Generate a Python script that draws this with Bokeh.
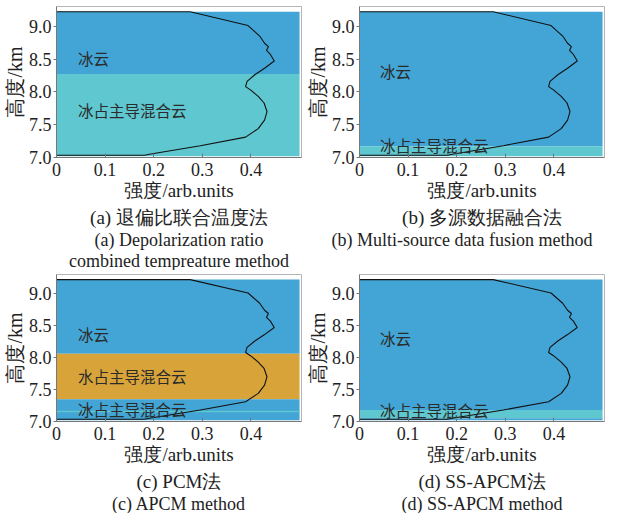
from bokeh.plotting import figure
from bokeh.layouts import row, column
from bokeh.models import Title, FixedTicker, ColumnDataSource, Range1d, NumeralTickFormatter
from bokeh.core.properties import value
from bokeh.embed import file_html
from bokeh.resources import INLINE

# ---------------- data ----------------
height_km = [9.22, 9.22, 9.01, 8.85, 8.74, 8.69, 8.63, 8.57, 8.47, 8.36, 8.26, 8.16,
             8.08, 8.03, 7.93, 7.83, 7.70, 7.57, 7.44, 7.31, 7.18, 7.05, 7.035, 7.035]
intensity = [0.0, 0.275, 0.394, 0.418, 0.428, 0.436, 0.432, 0.440, 0.448, 0.428, 0.408, 0.392,
             0.389, 0.399, 0.415, 0.427, 0.433, 0.428, 0.415, 0.389, 0.296, 0.191, 0.181, 0.0]

x_ticks = [0, 0.1, 0.2, 0.3, 0.4]
x_tick_labels = ["0", "0.1", "0.2", "0.3", "0.4"]
y_ticks = [7.0, 7.5, 8.0, 8.5, 9.0]
y_tick_labels = ["7.0", "7.5", "8.0", "8.5", "9.0"]
x_limits = [0.0, 0.5]
y_limits = [7.0, 9.3]

x_axis_title = "强度/arb.units"
y_axis_title = "高度/km"

# band classes per panel
a_band_class = ["ice", "ice_mixed"]
a_band_bottom = [8.27, 7.02]
a_band_top = [9.22, 8.27]

b_band_class = ["ice", "ice_mixed"]
b_band_bottom = [7.17, 7.02]
b_band_top = [9.22, 7.17]

c_band_class = ["ice", "water_mixed", "ice", "ice_mixed"]
c_band_bottom = [8.06, 7.35, 7.02, 7.145]
c_band_top = [9.22, 8.06, 7.35, 7.17]

d_band_class = ["ice", "ice_mixed", "ice"]
d_band_bottom = [7.18, 7.05, 7.02]
d_band_top = [9.22, 7.18, 7.05]

a_label_text = ["冰云", "冰占主导混合云"]
a_label_x = [0.044, 0.044]
a_label_y = [8.51, 7.72]

b_label_text = ["冰云", "冰占主导混合云"]
b_label_x = [0.042, 0.042]
b_label_y = [8.31, 7.19]

c_label_text = ["冰云", "水占主导混合云", "冰占主导混合云"]
c_label_x = [0.044, 0.044, 0.044]
c_label_y = [8.37, 7.71, 7.19]

d_label_text = ["冰云", "冰占主导混合云"]
d_label_x = [0.042, 0.042]
d_label_y = [8.30, 7.18]

a_caption = ["(a) 退偏比联合温度法", "(a) Depolarization ratio", "combined tempreature method"]
b_caption = ["(b) 多源数据融合法", "(b) Multi-source data fusion method"]
c_caption = ["(c) PCM法", "(c) APCM method"]
d_caption = ["(d) SS-APCM法", "(d) SS-APCM method"]

# ---------------- styles ----------------
BAND_COLORS = {"ice": "#42A5D5", "ice_mixed": "#5FC7D0", "water_mixed": "#D8A43A"}
SERIF = "Liberation Serif"
CJK = "Noto Sans CJK SC"


def make_panel(bclass, bbottom, btop, ltext, lx, ly, captions, cap_align,
               width, height, left, right, top):
    p = figure(width=width, height=height,
               x_range=Range1d(x_limits[0], x_limits[1] + 0.004),
               y_range=Range1d(y_limits[0], y_limits[1]),
               output_backend="svg", toolbar_location=None,
               min_border_left=left, min_border_right=right,
               min_border_top=top, min_border_bottom=0)
    p.grid.visible = False
    p.outline_line_color = "#b5b5b5"
    p.outline_line_width = 1

    src = ColumnDataSource(dict(
        left=[x_limits[0]] * len(bclass), right=[x_limits[1]] * len(bclass),
        bottom=bbottom, top=btop, color=[BAND_COLORS[c] for c in bclass]))
    p.quad(left="left", right="right", bottom="bottom", top="top",
           fill_color="color", line_color=None, source=src)

    p.line(intensity, height_km, line_color="#111111", line_width=1.1)

    tsrc = ColumnDataSource(dict(x=lx, y=ly, text=ltext))
    p.text(x="x", y="y", text="text", source=tsrc, text_font=value(CJK),
           text_font_size="15.5px", text_color="#2b2b2b", text_baseline="middle",
           text_align="left")

    # axes
    p.xaxis.ticker = FixedTicker(ticks=x_ticks)
    p.xaxis.formatter = NumeralTickFormatter(format="0.[0]")
    p.xaxis.major_label_overrides = dict(zip(x_ticks, x_tick_labels))
    p.yaxis.ticker = FixedTicker(ticks=y_ticks)
    p.yaxis.formatter = NumeralTickFormatter(format="0.0")
    p.yaxis.major_label_overrides = dict(zip(y_ticks, y_tick_labels))
    for ax in (p.xaxis, p.yaxis):
        ax.minor_tick_line_color = None
        ax.axis_line_color = "#777777"
        ax.major_tick_line_color = "#777777"
        ax.major_label_text_font = SERIF
        ax.major_label_text_font_size = "18px"
        ax.major_label_text_color = "#222222"
        ax.axis_label_text_font_style = "normal"
        ax.axis_label_text_color = "#222222"
    p.xaxis.major_tick_in = 4
    p.xaxis.major_tick_out = 0
    p.xaxis.major_label_standoff = 5
    p.xaxis.axis_label = x_axis_title
    p.xaxis.axis_label_text_font = SERIF
    p.xaxis.axis_label_text_font_size = "19px"
    p.xaxis.axis_label_standoff = 1
    p.yaxis.major_tick_in = 0
    p.yaxis.major_tick_out = 3
    p.yaxis.major_label_standoff = 2
    p.yaxis.axis_label = y_axis_title
    p.yaxis.axis_label_text_font = SERIF
    p.yaxis.axis_label_text_font_size = "20px"
    p.yaxis.axis_label_standoff = 0

    for i, (txt, (al, off)) in enumerate(zip(captions, cap_align)):
        p.add_layout(Title(text=txt, align=al, text_font=SERIF,
                           text_font_size="19px" if i == 0 else "18px",
                           text_font_style="normal", text_color="#222222",
                           standoff=2 if i == 0 else -1, offset=off), "below")
    return p


pa = make_panel(a_band_class, a_band_bottom, a_band_top, a_label_text, a_label_x, a_label_y,
                a_caption, [("center", 0)] * 3, 303, 270, 49, 2, 6)
pb = make_panel(b_band_class, b_band_bottom, b_band_top, b_label_text, b_label_x, b_label_y,
                b_caption, [("center", 0), ("right", 12)], 303, 270, 51, 2, 6)
pc = make_panel(c_band_class, c_band_bottom, c_band_top, c_label_text, c_label_x, c_label_y,
                c_caption, [("center", 0)] * 2, 303, 243, 49, 2, 4)
pd = make_panel(d_band_class, d_band_bottom, d_band_top, d_label_text, d_label_x, d_label_y,
                d_caption, [("center", 0)] * 2, 303, 243, 51, 2, 4)

layout = column(row(pa, pb), row(pc, pd))
open("out.html", "w").write(file_html(layout, INLINE))
